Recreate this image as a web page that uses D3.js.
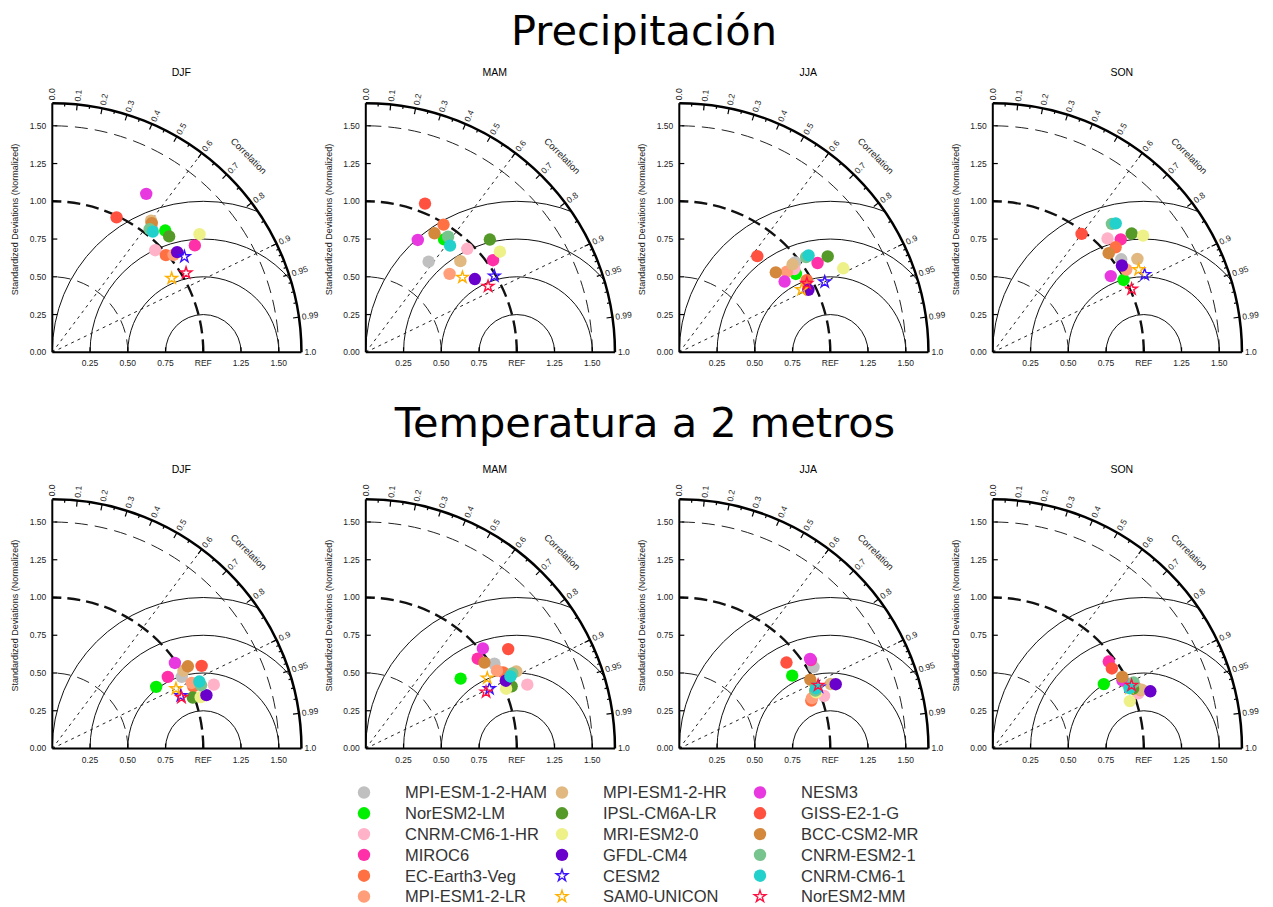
<!DOCTYPE html>
<meta charset="utf-8">

<head>
    <style>
        body { margin: 0; background: #fff; }
        .main-title {
            font-family: 'DejaVu Sans', sans-serif;
            font-size: 41.5px;
            text-anchor: middle;
        }
        .season {
            font-family: 'Liberation Sans', Arial, sans-serif;
            font-size: 10.5px;
            text-anchor: middle;
        }
        .tick-label {
            font-family: 'Liberation Sans', Arial, sans-serif;
            font-size: 8.5px;
            fill: #222;
        }
        .axis-title {
            font-family: 'Liberation Sans', Arial, sans-serif;
            font-size: 9px;
            fill: #222;
            text-anchor: middle;
        }
        .legend-label {
            font-family: 'Liberation Sans', Arial, sans-serif;
            font-size: 16.5px;
            fill: #333;
        }
    </style>
</head>

<script src="https://d3js.org/d3.v7.min.js"></script>

<div id="chart"></div>

<script>

    // models, in legend order (down each column)
    const models = ["MPI-ESM-1-2-HAM", "NorESM2-LM", "CNRM-CM6-1-HR", "MIROC6", "EC-Earth3-Veg", "MPI-ESM1-2-LR",
        "MPI-ESM1-2-HR", "IPSL-CM6A-LR", "MRI-ESM2-0", "GFDL-CM4", "CESM2", "SAM0-UNICON",
        "NESM3", "GISS-E2-1-G", "BCC-CSM2-MR", "CNRM-ESM2-1", "CNRM-CM6-1", "NorESM2-MM"];
    const colors = ["#c0c0c0", "#00f000", "#ffb2c8", "#ff30a8", "#ff7043", "#ff9e78",
        "#e0b880", "#559a28", "#eef088", "#6a00cc", "#3a10ff", "#ffb000",
        "#e838e0", "#ff5040", "#d4883c", "#78c48e", "#22d0cc", "#ff1040"];
    const shapes = ["c", "c", "c", "c", "c", "c", "c", "c", "c", "c", "s", "s", "c", "c", "c", "c", "c", "s"];

    const seasons = ["DJF", "MAM", "JJA", "SON"];

    // normalized standard deviation (ratio) and correlation, precipitation
    const prRatioDJF = [1.06, 1.10, 0.96, 1.18, 0.99, 1.03, 1.09, 1.09, 1.25, 1.06, 1.08, 0.93, 1.22, 0.99, 1.08, 1.04, 1.04, 1.03];
    const prCorrDJF = [0.62, 0.68, 0.71, 0.80, 0.76, 0.78, 0.60, 0.71, 0.78, 0.78, 0.81, 0.85, 0.51, 0.43, 0.61, 0.62, 0.64, 0.86];
    const prRatioMAM = [0.73, 0.91, 0.96, 1.04, 0.99, 0.76, 0.87, 1.11, 1.11, 0.87, 0.99, 0.81, 0.82, 1.06, 0.91, 0.94, 0.90, 0.92];
    const prCorrMAM = [0.57, 0.57, 0.70, 0.81, 0.52, 0.73, 0.72, 0.74, 0.80, 0.83, 0.86, 0.79, 0.42, 0.37, 0.50, 0.58, 0.62, 0.88];
    const prRatioJJA = [0.97, 0.93, 0.94, 1.09, 0.97, 0.89, 0.95, 1.17, 1.22, 0.95, 1.07, 0.91, 0.84, 0.82, 0.83, 1.05, 1.07, 0.96];
    const prCorrJJA = [0.79, 0.83, 0.81, 0.84, 0.87, 0.80, 0.79, 0.84, 0.89, 0.90, 0.90, 0.89, 0.83, 0.63, 0.77, 0.80, 0.80, 0.88];
    const prRatioSON = [1.05, 0.99, 1.07, 1.13, 1.07, 1.04, 1.14, 1.21, 1.26, 1.03, 1.13, 1.11, 0.93, 0.98, 1.01, 1.16, 1.18, 1.01];
    const prCorrSON = [0.81, 0.875, 0.71, 0.75, 0.76, 0.85, 0.84, 0.76, 0.79, 0.83, 0.89, 0.87, 0.84, 0.60, 0.76, 0.68, 0.69, 0.91];

    // 2 m temperature
    const tasRatioDJF = [0.98, 0.80, 1.15, 0.90, 1.02, 1.02, 1.01, 0.99, 1.04, 1.08, 0.92, 0.91, 0.99, 1.13, 1.05, 1.07, 1.07, 0.92];
    const tasCorrDJF = [0.875, 0.86, 0.93, 0.85, 0.915, 0.905, 0.86, 0.94, 0.945, 0.945, 0.925, 0.90, 0.82, 0.875, 0.855, 0.92, 0.91, 0.93];
    const tasRatioMAM = [1.02, 0.78, 1.15, 0.95, 1.04, 1.01, 1.12, 1.05, 1.01, 1.03, 0.91, 0.93, 1.02, 1.15, 0.97, 1.09, 1.07, 0.88];
    const tasCorrMAM = [0.835, 0.805, 0.93, 0.78, 0.875, 0.86, 0.89, 0.92, 0.92, 0.90, 0.90, 0.865, 0.76, 0.82, 0.81, 0.89, 0.895, 0.905];
    const tasRatioJJA = [1.04, 0.89, 1.02, 1.05, 0.93, 0.94, 1.09, 0.98, 0.98, 1.12, 1.01, 0.99, 1.05, 0.91, 0.98, 0.98, 0.99, 1.01];
    const tasCorrJJA = [0.855, 0.84, 0.94, 0.83, 0.94, 0.935, 0.92, 0.92, 0.925, 0.925, 0.915, 0.915, 0.825, 0.78, 0.885, 0.92, 0.915, 0.91];
    const tasRatioSON = [0.99, 0.85, 1.03, 0.96, 1.03, 1.05, 1.06, 1.01, 0.96, 1.11, 0.99, 0.99, 0.97, 0.95, 0.98, 1.03, 0.99, 1.01];
    const tasCorrSON = [0.90, 0.865, 0.935, 0.80, 0.92, 0.93, 0.93, 0.92, 0.945, 0.94, 0.91, 0.915, 0.885, 0.83, 0.875, 0.905, 0.915, 0.91];

    // axis values
    const stdTicks = [0, 0.25, 0.5, 0.75, 1.0, 1.25, 1.5];
    const xTickLabels = ["0.25", "0.50", "0.75", "REF", "1.25", "1.50"];
    const corrLabels = [0.0, 0.1, 0.2, 0.3, 0.4, 0.5, 0.6, 0.7, 0.8, 0.9, 0.95, 0.99, 1.0];
    const corrMinor = [0.05, 0.15, 0.25, 0.35, 0.45, 0.55, 0.65, 0.75, 0.85, 0.91, 0.92, 0.93, 0.94, 0.96, 0.97, 0.98];
    const rmsCircles = [0.25, 0.5, 0.75, 1.0];
    const corrLines = [0.6, 0.9];

    const maxR = 1.65;
    const unit = 151;          // pixels per normalized unit
    const colX = [52.3, 365.8, 679.3, 992.8];
    const rowY = [352.3, 748.5];
    const starSize = 42;

    const svg = d3.select("#chart")
        .append("svg")
        .attr("width", 1273)
        .attr("height", 907);

    svg.append("text").attr("class", "main-title").attr("x", 644).attr("y", 45).text("Precipitación");
    svg.append("text").attr("class", "main-title").attr("x", 645).attr("y", 437).text("Temperatura a 2 metros");

    let clipCount = 0;

    function drawPanel(ox, oy, season, ratio, corr) {
        const g = svg.append("g").attr("transform", "translate(" + ox + "," + oy + ")");
        const r = d3.scaleLinear().domain([0, maxR]).range([0, maxR * unit]);
        const R = r(maxR);
        const id = "clip" + (clipCount++);

        // quarter disk clip
        const cp = d3.path();
        cp.moveTo(0, 0);
        cp.lineTo(R, 0);
        cp.arc(0, 0, R, 0, -Math.PI / 2, true);
        cp.closePath();
        g.append("clipPath").attr("id", id).append("path").attr("d", cp.toString());

        const inner = g.append("g").attr("clip-path", "url(#" + id + ")");

        // centered RMS circles around REF
        inner.selectAll(".rms")
            .data(rmsCircles)
            .enter()
            .append("circle")
            .attr("cx", r(1))
            .attr("cy", 0)
            .attr("r", d => r(d))
            .attr("fill", "none")
            .attr("stroke", "#111")
            .attr("stroke-width", 1);

        // std dev arcs centered at origin
        function stdArc(v) {
            const p = d3.path();
            p.moveTo(r(v), 0);
            p.arc(0, 0, r(v), 0, -Math.PI / 2, true);
            return p.toString();
        }
        [0.5, 1.5].forEach(v => {
            inner.append("path").attr("d", stdArc(v))
                .attr("fill", "none").attr("stroke", "#222").attr("stroke-width", 1)
                .attr("stroke-dasharray", "13,7");
        });
        inner.append("path").attr("d", stdArc(1.0))
            .attr("fill", "none").attr("stroke", "#111").attr("stroke-width", 2.4)
            .attr("stroke-dasharray", "13,6");

        // dashed correlation rays
        inner.selectAll(".ray")
            .data(corrLines)
            .enter()
            .append("line")
            .attr("x1", 0).attr("y1", 0)
            .attr("x2", d => r(maxR * d))
            .attr("y2", d => -r(maxR * Math.sqrt(1 - d * d)))
            .attr("stroke", "#222")
            .attr("stroke-width", 1)
            .attr("stroke-dasharray", "3,4");

        // outer arc and axes
        const op = d3.path();
        op.moveTo(R, 0);
        op.arc(0, 0, R, 0, -Math.PI / 2, true);
        g.append("path").attr("d", op.toString()).attr("fill", "none")
            .attr("stroke", "#000").attr("stroke-width", 2.5);
        g.append("line").attr("x1", 0).attr("y1", 0).attr("x2", 0).attr("y2", -R)
            .attr("stroke", "#000").attr("stroke-width", 2);
        g.append("line").attr("x1", 0).attr("y1", 0).attr("x2", R).attr("y2", 0)
            .attr("stroke", "#000").attr("stroke-width", 2);

        // axis ticks
        stdTicks.slice(1).forEach(v => {
            g.append("line").attr("x1", 0).attr("x2", 5).attr("y1", -r(v)).attr("y2", -r(v))
                .attr("stroke", "#000").attr("stroke-width", 1.2);
            g.append("line").attr("x1", r(v)).attr("x2", r(v)).attr("y1", 0).attr("y2", -5)
                .attr("stroke", "#000").attr("stroke-width", 1.2);
        });

        // y tick labels
        g.selectAll(".ylab")
            .data(stdTicks)
            .enter()
            .append("text")
            .attr("class", "tick-label")
            .attr("x", -6)
            .attr("y", d => -r(d))
            .attr("dy", "0.35em")
            .attr("text-anchor", "end")
            .text(d => d.toFixed(2));

        // x tick labels
        g.selectAll(".xlab")
            .data(xTickLabels)
            .enter()
            .append("text")
            .attr("class", "tick-label")
            .attr("x", (d, i) => r(stdTicks[i + 1]))
            .attr("y", 14)
            .attr("text-anchor", "middle")
            .text(d => d);

        // correlation ticks on outer arc
        function arcTick(c, len) {
            const a = Math.acos(c);
            g.append("line")
                .attr("x1", Math.cos(a) * R).attr("y1", -Math.sin(a) * R)
                .attr("x2", Math.cos(a) * (R - len)).attr("y2", -Math.sin(a) * (R - len))
                .attr("stroke", "#000").attr("stroke-width", 1.2);
        }
        corrLabels.slice(1, -1).forEach(c => arcTick(c, 6));
        corrMinor.forEach(c => arcTick(c, 3));

        // correlation labels
        g.selectAll(".clab")
            .data(corrLabels)
            .enter()
            .append("text")
            .attr("class", "tick-label")
            .attr("transform", d => {
                const a = Math.acos(d);
                const rr = R + 3;
                return "translate(" + (Math.cos(a) * rr) + "," + (-Math.sin(a) * rr) + ") rotate(" + (-a * 180 / Math.PI) + ")";
            })
            .attr("dy", "0.35em")
            .attr("text-anchor", "start")
            .text(d => d === 0.95 || d === 0.99 ? d.toFixed(2) : d.toFixed(1));

        // "Correlation" label
        const ca = Math.PI / 4;
        g.append("text")
            .attr("class", "axis-title")
            .attr("transform", "translate(" + (Math.cos(ca) * r(1.84)) + "," + (-Math.sin(ca) * r(1.84)) + ") rotate(45)")
            .attr("dy", "0.35em")
            .style("font-size", "9.5px")
            .text("Correlation");

        // y axis title
        g.append("text")
            .attr("class", "axis-title")
            .attr("transform", "translate(-37," + (-r(0.88)) + ") rotate(-90)")
            .attr("dy", "0.35em")
            .text("Standardized Deviations (Normalized)");

        // season label
        g.append("text")
            .attr("class", "season")
            .attr("x", 129)
            .attr("y", -276)
            .text(season);

        // markers
        const pts = ratio.map((s, i) => ({
            x: r(s * corr[i]),
            y: -r(s * Math.sqrt(1 - corr[i] * corr[i])),
            i: i
        }));
        pts.forEach(p => {
            if (shapes[p.i] === "c") {
                g.append("circle")
                    .attr("cx", p.x).attr("cy", p.y).attr("r", 6.2)
                    .attr("fill", colors[p.i]);
            } else {
                g.append("path")
                    .attr("d", d3.symbol().type(d3.symbolStar).size(starSize)())
                    .attr("transform", "translate(" + p.x + "," + p.y + ")")
                    .attr("fill", "none")
                    .attr("stroke", colors[p.i])
                    .attr("stroke-width", 1.4);
            }
        });
    }

    const prRatio = [prRatioDJF, prRatioMAM, prRatioJJA, prRatioSON];
    const prCorr = [prCorrDJF, prCorrMAM, prCorrJJA, prCorrSON];
    const tasRatio = [tasRatioDJF, tasRatioMAM, tasRatioJJA, tasRatioSON];
    const tasCorr = [tasCorrDJF, tasCorrMAM, tasCorrJJA, tasCorrSON];

    seasons.forEach((s, k) => {
        drawPanel(colX[k], rowY[0], s, prRatio[k], prCorr[k]);
        drawPanel(colX[k], rowY[1], s, tasRatio[k], tasCorr[k]);
    });

    // legend
    const legX = [364, 562, 760];
    const legY0 = 792.5;
    const legStep = 20.8;
    const leg = svg.append("g");
    models.forEach((m, i) => {
        const col = Math.floor(i / 6), row = i % 6;
        const cx = legX[col], cy = legY0 + row * legStep;
        if (shapes[i] === "c") {
            leg.append("circle").attr("cx", cx).attr("cy", cy).attr("r", 6.2).attr("fill", colors[i]);
        } else {
            leg.append("path")
                .attr("d", d3.symbol().type(d3.symbolStar).size(starSize)())
                .attr("transform", "translate(" + cx + "," + cy + ")")
                .attr("fill", "none")
                .attr("stroke", colors[i])
                .attr("stroke-width", 1.4);
        }
        leg.append("text")
            .attr("class", "legend-label")
            .attr("x", cx + 41)
            .attr("y", cy)
            .attr("dy", "0.36em")
            .text(m);
    });
</script>
